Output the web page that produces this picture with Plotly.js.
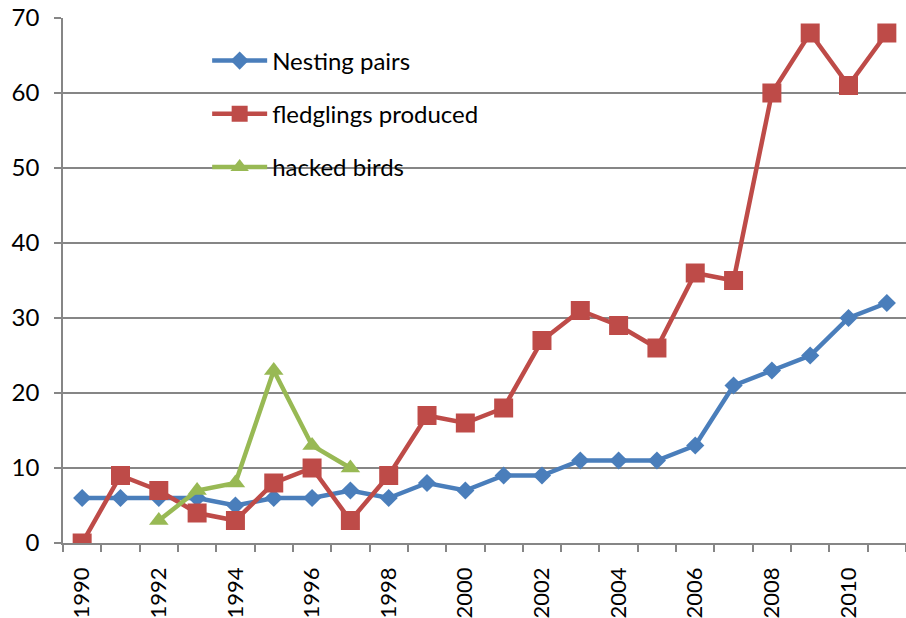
<!DOCTYPE html>
<html>
<head>
<meta charset="utf-8">
<script src="https://cdn.plot.ly/plotly-3.0.1.min.js"></script>
<style>html,body{margin:0;padding:0;background:#fff;}#chart{width:906px;height:618px;}</style>
</head>
<body>
<div id="chart"></div>
<script>
const years = [1990,1991,1992,1993,1994,1995,1996,1997,1998,1999,2000,2001,2002,2003,2004,2005,2006,2007,2008,2009,2010,2011];
const nestingPairs = [6,6,6,6,5,6,6,7,6,8,7,9,9,11,11,11,13,21,23,25,30,32];
const fledglings = [0,9,7,4,3,8,10,3,9,17,16,18,27,31,29,26,36,35,60,68,61,68];
const hackedYears = [1992,1993,1994,1995,1996,1997];
const hackedBirds = [3,7,8,23,13,10];
const xTickLabels = ['1990','1992','1994','1996','1998','2000','2002','2004','2006','2008','2010'];
const xTickVals = xTickLabels.map(Number);

const font = 'Lato, "Open Sans", sans-serif';
const traces = [
  {x: years, y: nestingPairs, name: 'Nesting pairs', mode: 'lines+markers', legendgroup: 'a',
   line: {color: '#4A7EBB', width: 4.5}, marker: {symbol: 'diamond', size: 14, color: '#4A7EBB'}},
  {x: years, y: fledglings, name: 'fledglings produced', mode: 'lines+markers', legendgroup: 'b',
   line: {color: '#BE4B48', width: 4.5}, marker: {symbol: 'square', size: 19, color: '#BE4B48'}},
  {x: hackedYears, y: hackedBirds, name: 'hacked birds', mode: 'lines+markers', legendgroup: 'c',
   line: {color: '#98B954', width: 4.5}, marker: {symbol: 'triangle-up', size: 17, color: '#98B954'}}
];
const layout = {
  width: 906, height: 618,
  margin: {l: 63, r: 0, t: 18, b: 75},
  paper_bgcolor: '#fff', plot_bgcolor: '#fff',
  font: {family: font, size: 24, color: '#000'},
  showlegend: true,
  legend: {x: 0.171, y: 0.961, xanchor: 'left', yanchor: 'top', bgcolor: 'rgba(0,0,0,0)',
           font: {family: font, size: 24, color: '#000'}, tracegroupgap: 19, itemwidth: 55},
  xaxis: {range: [1989.5, 2011.5], tickmode: 'array', tickvals: xTickVals, ticktext: xTickLabels,
          tickangle: -90, ticks: '', showgrid: false, zeroline: false,
          showline: true, linecolor: '#868686', linewidth: 1.5, ticklabelstandoff: 14,
          tickfont: {family: font, size: 22, color: '#000'},
          minor: {tick0: 1989.5, dtick: 1, ticks: 'outside', ticklen: 7, tickcolor: '#868686', tickwidth: 1.5, showgrid: false}},
  yaxis: {range: [0, 70], dtick: 10, ticks: 'outside', ticklen: 7, tickcolor: '#868686', tickwidth: 1.5,
          showgrid: true, gridcolor: '#868686', gridwidth: 1.5, zeroline: false,
          showline: true, linecolor: '#868686', linewidth: 1.5, ticklabelstandoff: 10,
          tickfont: {family: font, size: 24, color: '#000'}}
};
Plotly.newPlot('chart', traces, layout, {displayModeBar: false});
</script>
</body>
</html>
